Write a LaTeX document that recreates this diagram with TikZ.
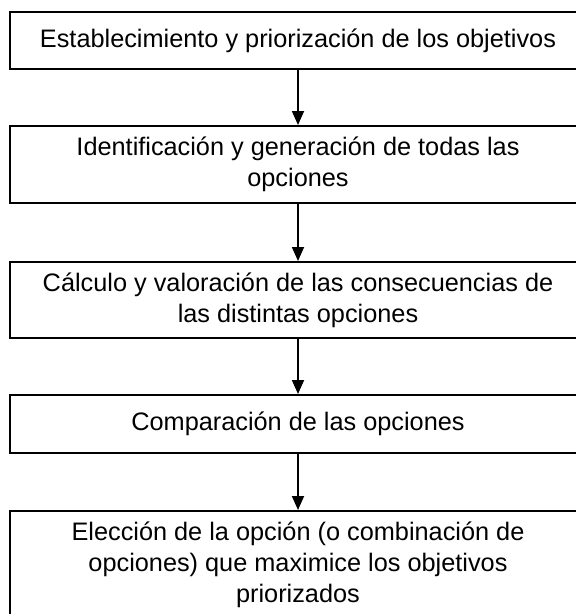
\documentclass[tikz,border=0pt]{standalone}
\usepackage{fontspec}
\setmainfont{Liberation Sans}
\usetikzlibrary{arrows.meta}
\begin{document}
\begin{tikzpicture}[x=1pt,y=-1pt,
  stepbox/.style={draw=black, line width=2pt, minimum width=576pt, inner sep=0pt,
    align=center, font=\fontsize{25.3}{31}\selectfont, text=black},
  flow/.style={draw=black, line width=1.8pt, -{Triangle[length=14pt,width=12pt]}}]
\useasboundingbox (0,0) rectangle (576,614);
\clip (0,0) rectangle (576,614);
\fill[white] (0,0) rectangle (576,614);
\node[stepbox, minimum height=57pt] (b1) at (298,40.5) {Establecimiento y priorización de los objetivos};
\node[stepbox, minimum height=77pt] (b2) at (298,164.5) {Identificación y generación de todas las\\opciones};
\node[stepbox, minimum height=76pt] (b3) at (298,300) {Cálculo y valoración de las consecuencias de\\las distintas opciones};
\node[stepbox, minimum height=58pt] (b4) at (298,424) {Comparación de las opciones};
\node[stepbox, minimum height=108pt] (b5) at (298,565) {Elección de la opción (o combinación de\\opciones) que maximice los objetivos\\priorizados};
\draw[flow] (b1) -- (b2);
\draw[flow] (b2) -- (b3);
\draw[flow] (b3) -- (b4);
\draw[flow] (b4) -- (b5);
\end{tikzpicture}
\end{document}
